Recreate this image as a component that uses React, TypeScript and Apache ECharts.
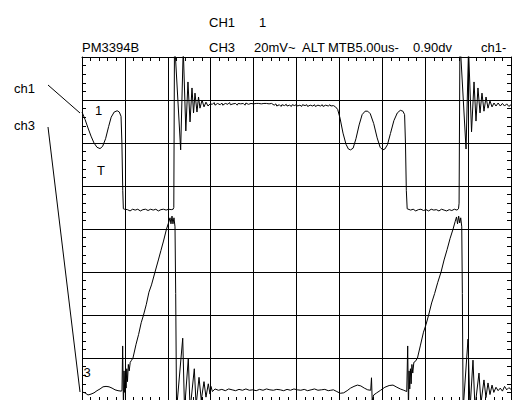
import React, { useEffect, useRef } from "react";
import * as echarts from "echarts";

// Time axis in microseconds (5 us / div, 10 divisions); vertical axis in divisions (-4..4)
const timeRange: [number, number] = [0, 50];
const timeStep = 5;
const divRange: [number, number] = [-4, 4];
const divStep = 1;

// Channel 1 trace (upper)
const ch1: [number, number][] = [
  [0.0, 2.72], [0.35, 2.55], [0.7, 2.35], [1.05, 2.16], [1.4, 2.0], [1.75, 1.9], [2.1, 1.87], [2.4, 1.92],
  [2.75, 2.1], [3.1, 2.38], [3.4, 2.6], [3.75, 2.72], [4.1, 2.75], [4.35, 2.72], [4.55, 2.62], [4.65, 2.0],
  [4.75, 0.9], [4.82, 0.47],
  [4.95, 0.46], [5.3, 0.45], [5.6, 0.42], [5.9, 0.46], [6.2, 0.44], [6.5, 0.46], [6.8, 0.42], [7.1, 0.45],
  [7.4, 0.46], [7.7, 0.43], [8.0, 0.46], [8.3, 0.44], [8.6, 0.46], [8.9, 0.42], [9.2, 0.45], [9.5, 0.46],
  [9.8, 0.44], [10.1, 0.46], [10.4, 0.45], [10.62, 0.46], [10.7, 0.5], [10.78, 4.4],
  [11.5, 1.84], [11.8, 4.2], [12.1, 2.28], [12.35, 3.42], [12.59, 2.49], [12.82, 3.28], [13.0, 2.7],
  [13.17, 3.16], [13.4, 2.72], [13.58, 3.07], [13.75, 2.81], [13.99, 3.0], [14.22, 2.84], [14.45, 2.95],
  [14.69, 2.86], [14.92, 2.91],
  [15.2, 2.9], [15.4, 2.94], [15.5, 2.88], [15.8, 2.92], [16.1, 2.89], [16.3, 2.93], [16.4, 2.88], [16.7, 2.92],
  [17.0, 2.9], [17.2, 2.94], [17.3, 2.89], [17.6, 2.91], [17.9, 2.92], [18.1, 2.88], [18.2, 2.92], [18.5, 2.91],
  [18.8, 2.92], [19.0, 2.88], [19.1, 2.93], [19.4, 2.9], [19.7, 2.92], [20.0, 2.91], [20.3, 2.92], [20.6, 2.92],
  [20.9, 2.91], [21.2, 2.92], [21.5, 2.92], [21.8, 2.91], [22.1, 2.92], [22.4, 2.88], [22.6, 2.91], [22.7, 2.86],
  [23.0, 2.89], [23.2, 2.85], [23.3, 2.89], [23.6, 2.87], [23.8, 2.9], [23.9, 2.86], [24.2, 2.88], [24.4, 2.85],
  [24.5, 2.89], [24.8, 2.87], [25.0, 2.9], [25.1, 2.86], [25.4, 2.88], [25.6, 2.85], [25.7, 2.89], [26.0, 2.87],
  [26.2, 2.89], [26.3, 2.85], [26.6, 2.88], [26.9, 2.86], [27.1, 2.89], [27.2, 2.85], [27.5, 2.88], [27.8, 2.86],
  [28.0, 2.89], [28.1, 2.85], [28.4, 2.88], [28.7, 2.86], [28.9, 2.89], [29.0, 2.86], [29.3, 2.87],
  [29.55, 2.84],
  [29.8, 2.78], [30.07, 2.58], [30.42, 2.23], [30.77, 1.97], [31.05, 1.86], [31.3, 1.84], [31.6, 1.88],
  [31.93, 2.1], [32.3, 2.42], [32.65, 2.66], [33.0, 2.74], [33.3, 2.74], [33.6, 2.68], [34.0, 2.45],
  [34.4, 2.12], [34.75, 1.9], [35.05, 1.84], [35.3, 1.86], [35.6, 1.96], [35.95, 2.22], [36.35, 2.52],
  [36.75, 2.7], [37.1, 2.76], [37.4, 2.74], [37.6, 2.66], [37.7, 2.0], [37.8, 0.9], [37.9, 0.47],
  [38.3, 0.44], [38.6, 0.46], [38.9, 0.42], [39.2, 0.45], [39.5, 0.46], [39.8, 0.43], [40.1, 0.45], [40.4, 0.42],
  [40.7, 0.46], [41.0, 0.44], [41.3, 0.45], [41.6, 0.42], [41.9, 0.46], [42.2, 0.44], [42.5, 0.42], [42.8, 0.45],
  [43.1, 0.43], [43.4, 0.46], [43.7, 0.44], [43.88, 0.47], [43.95, 0.6], [44.05, 4.4],
  [44.76, 1.86], [45.05, 4.2], [45.4, 2.26], [45.69, 3.42], [45.92, 2.51], [46.15, 3.28], [46.39, 2.7],
  [46.62, 3.16], [46.85, 2.74], [47.09, 3.07], [47.32, 2.81], [47.55, 2.98], [47.79, 2.84], [48.02, 2.93],
  [48.25, 2.86], [48.5, 2.93], [48.75, 2.86], [49.0, 2.92], [49.25, 2.86], [49.5, 2.91], [49.75, 2.85], [50.0, 2.89],
];

// Channel 3 trace (lower)
const ch3: [number, number][] = [
  [0.0, -3.79], [0.35, -3.81], [0.7, -3.86], [1.05, -3.84], [1.4, -3.81], [1.75, -3.76], [2.1, -3.72],
  [2.45, -3.67], [2.8, -3.66], [3.15, -3.67], [3.5, -3.7], [3.85, -3.74], [4.2, -3.76], [4.55, -3.77],
  [4.66, -3.76], [4.74, -2.72], [4.83, -4.2], [4.9, -3.3], [4.98, -3.8], [5.06, -3.35], [5.14, -3.7],
  [5.22, -3.25], [5.3, -3.55], [5.4, -3.15], [5.5, -3.3], [5.62, -3.1], [5.75, -3.06], [5.94, -3.0],
  [6.3, -2.68], [6.6, -2.45], [6.9, -2.18], [7.17, -2.0], [7.5, -1.75], [7.8, -1.47], [8.1, -1.3],
  [8.51, -1.0], [8.9, -0.72], [9.2, -0.5], [9.5, -0.28], [9.85, 0.0], [10.05, 0.12], [10.26, 0.26],
  [10.37, 0.12], [10.49, 0.3], [10.6, 0.12], [10.72, 0.26], [10.84, 0.05], [10.92, -1.5], [11.02, -4.2],
  [11.74, -2.54], [11.95, -4.2], [12.39, -3.01], [12.6, -4.2], [13.09, -3.25], [13.3, -4.1], [13.64, -3.45],
  [13.9, -3.98], [14.22, -3.55], [14.45, -3.91], [14.72, -3.6], [14.92, -3.84], [15.03, -3.66], [15.2, -3.78],
  [15.5, -3.72], [15.9, -3.75], [16.3, -3.73], [16.7, -3.76], [17.1, -3.72], [17.5, -3.74], [17.9, -3.76],
  [18.3, -3.73], [18.7, -3.75], [19.1, -3.72], [19.5, -3.75], [19.9, -3.74], [20.3, -3.76], [20.7, -3.73],
  [21.1, -3.75], [21.5, -3.72], [21.9, -3.74], [22.3, -3.75], [22.7, -3.73], [23.1, -3.74], [23.5, -3.76],
  [23.9, -3.73], [24.3, -3.75], [24.7, -3.72], [25.1, -3.74], [25.5, -3.75], [25.9, -3.73], [26.3, -3.76],
  [26.7, -3.74], [27.1, -3.72], [27.5, -3.75], [27.9, -3.74], [28.3, -3.73], [28.7, -3.76], [29.0, -3.75],
  [29.3, -3.74], [29.7, -3.78], [30.1, -3.82], [30.5, -3.81], [30.9, -3.76], [31.3, -3.7], [31.7, -3.66],
  [32.1, -3.63], [32.5, -3.65], [32.9, -3.7], [33.3, -3.74], [33.65, -3.75], [33.74, -3.46], [33.82, -3.98],
  [34.0, -3.86], [34.35, -3.81], [34.8, -3.75], [35.3, -3.68], [35.8, -3.64], [36.25, -3.63], [36.7, -3.68],
  [37.1, -3.72], [37.5, -3.75], [37.85, -3.78], [37.96, -2.72], [38.05, -4.2], [38.12, -3.3], [38.2, -3.72],
  [38.28, -3.25], [38.36, -3.6], [38.45, -3.15], [38.55, -3.35], [38.68, -3.1], [38.85, -3.08], [39.1, -3.0],
  [39.45, -2.7], [39.8, -2.4], [40.1, -2.22], [40.4, -2.0], [40.75, -1.72], [41.1, -1.5], [41.45, -1.25],
  [41.85, -1.0], [42.2, -0.72], [42.55, -0.48], [42.9, -0.22], [43.25, 0.0], [43.5, 0.18], [43.65, 0.28],
  [43.77, 0.12], [43.9, 0.3], [44.02, 0.14], [44.14, 0.26], [44.26, 0.05], [44.33, -1.5], [44.42, -4.2],
  [44.99, -2.56], [45.22, -4.2], [45.57, -3.05], [45.8, -4.15], [46.27, -3.35], [46.5, -4.05], [46.85, -3.51],
  [47.08, -3.92], [47.32, -3.58], [47.55, -3.85], [47.79, -3.63], [48.0, -3.8], [48.25, -3.68], [48.5, -3.76],
  [48.75, -3.7], [49.0, -3.77], [49.25, -3.66], [49.5, -3.74], [49.75, -3.69], [50.0, -3.73],
];

const FONT = '"Liberation Sans", Arial, Helvetica, sans-serif';

function axis(position: string, min: number, max: number, interval: number, split: boolean) {
  return {
    type: "value",
    position,
    min,
    max,
    interval,
    axisLine: { show: true, onZero: false, lineStyle: { color: "#000", width: 1 } },
    axisTick: { show: true, inside: true, length: 4, lineStyle: { color: "#000", width: 1 } },
    minorTick: { show: true, splitNumber: 5, length: 4, lineStyle: { color: "#000", width: 1 } },
    axisLabel: { show: false },
    splitLine: { show: split, lineStyle: { color: "#000", width: 1 } },
    minorSplitLine: { show: false },
  };
}

function txt(text: string, x: number, y: number) {
  return {
    type: "text",
    x,
    y,
    silent: true,
    style: { text, fill: "#000", fontSize: 13, fontFamily: FONT, verticalAlign: "middle", align: "left" },
  };
}

export default function App() {
  const ref = useRef<HTMLDivElement>(null);
  useEffect(() => {
    if (!ref.current) return;
    const chart = echarts.init(ref.current, null, { renderer: "svg", width: 527, height: 410 });
    chart.setOption({
      animation: false,
      backgroundColor: "#fff",
      grid: { left: 82, top: 57, width: 429, height: 344, show: false },
      xAxis: [
        axis("bottom", timeRange[0], timeRange[1], timeStep, true),
        axis("top", timeRange[0], timeRange[1], timeStep, false),
      ],
      yAxis: [
        axis("left", divRange[0], divRange[1], divStep, true),
        axis("right", divRange[0], divRange[1], divStep, false),
      ],
      series: [
        {
          type: "line",
          data: ch1,
          symbol: "none",
          clip: true,
          silent: true,
          lineStyle: { color: "#000", width: 1 },
          z: 5,
        },
        {
          type: "line",
          data: ch3,
          symbol: "none",
          clip: true,
          silent: true,
          lineStyle: { color: "#000", width: 1 },
          z: 5,
        },
      ],
      graphic: [
        txt("CH1", 209, 22.5),
        txt("1", 259, 22.5),
        txt("PM3394B", 82, 47.5),
        txt("CH3", 209, 47.5),
        txt("20mV~", 254, 47.5),
        txt("ALT", 302, 47.5),
        txt("MTB5.00us-", 328, 47.5),
        txt("0.90dv", 413, 47.5),
        txt("ch1-", 481, 47.5),
        txt("ch1", 14, 88.5),
        txt("ch3", 14, 125.5),
        txt("1", 95, 110.5),
        txt("T", 97, 170.5),
        txt("3", 83.5, 372.5),
        {
          type: "line",
          silent: true,
          shape: { x1: 48, y1: 85, x2: 80, y2: 113 },
          style: { stroke: "#000", lineWidth: 1 },
        },
        {
          type: "line",
          silent: true,
          shape: { x1: 48, y1: 127, x2: 80, y2: 392 },
          style: { stroke: "#000", lineWidth: 1 },
        },
      ],
    });
    return () => chart.dispose();
  }, []);
  return (
    <div
      ref={ref}
      style={{ position: "absolute", left: 0, top: 0, width: 527, height: 410, background: "#fff" }}
    />
  );
}
